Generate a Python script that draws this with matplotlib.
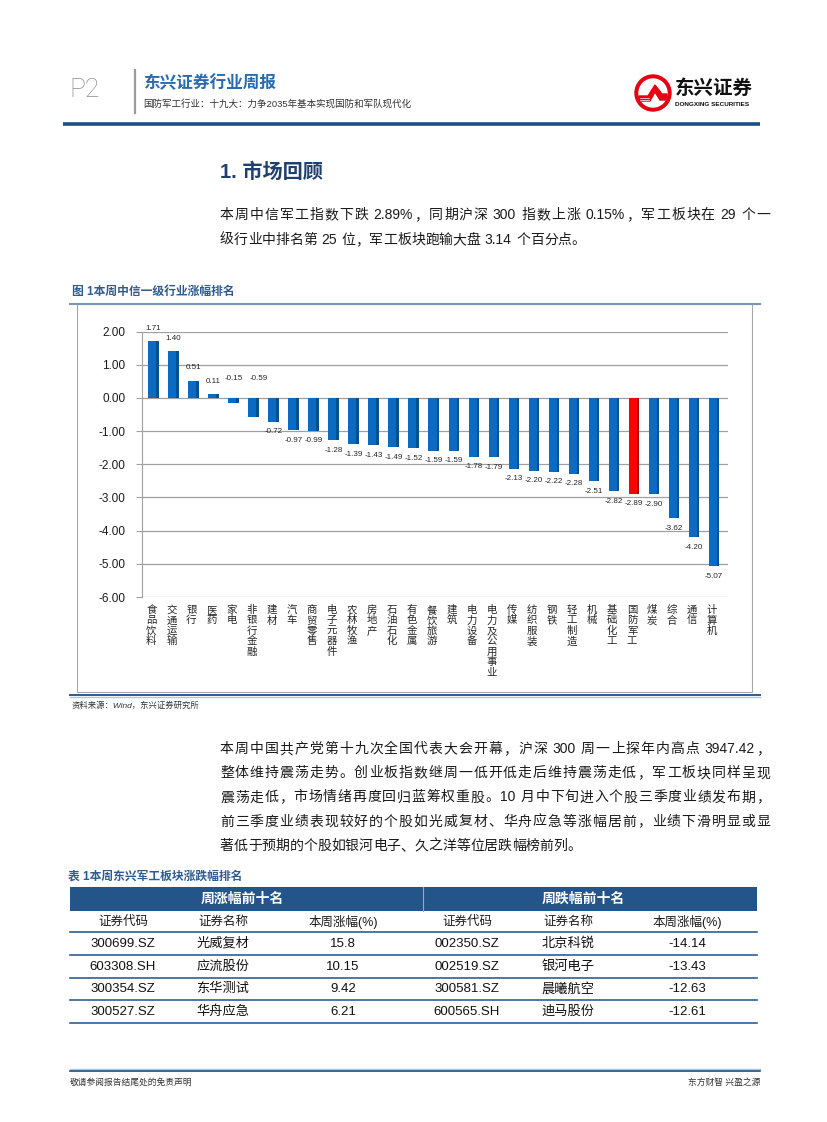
import matplotlib
matplotlib.use('Agg')
import numpy as np
import matplotlib.pyplot as plt
from matplotlib.patches import Rectangle, Circle, Polygon

plt.rcParams['font.family'] = ['Liberation Sans', 'Noto Sans CJK SC', 'DejaVu Sans']

# 图1 数据：中信一级行业本周涨跌幅(%)
industries = ['食品饮料', '交通运输', '银行', '医药', '家电', '非银行金融', '建材', '汽车',
              '商贸零售', '电子元器件', '农林牧渔', '房地产', '石油石化', '有色金属',
              '餐饮旅游', '建筑', '电力设备', '电力及公用事业', '传媒', '纺织服装', '钢铁',
              '轻工制造', '机械', '基础化工', '国防军工', '煤炭', '综合', '通信', '计算机']
changes = [1.71, 1.40, 0.51, 0.11, -0.15, -0.59, -0.72, -0.97, -0.99, -1.28, -1.39, -1.43,
           -1.49, -1.52, -1.59, -1.59, -1.78, -1.79, -2.13, -2.20, -2.22, -2.28, -2.51,
           -2.82, -2.89, -2.90, -3.62, -4.20, -5.07]
highlight = '国防军工'

# 正文
para1 = ['本周中信军工指数下跌 2.89%，同期沪深 300 指数上涨 0.15%，军工板块在 29 个一',
         '级行业中排名第 25 位，军工板块跑输大盘 3.14 个百分点。']
para2 = ['本周中国共产党第十九次全国代表大会开幕，沪深 300 周一上探年内高点 3947.42，',
         '整体维持震荡走势。创业板指数继周一低开低走后维持震荡走低，军工板块同样呈现',
         '震荡走低，市场情绪再度回归蓝筹权重股。10 月中下旬进入个股三季度业绩发布期，',
         '前三季度业绩表现较好的个股如光威复材、华舟应急等涨幅居前，业绩下滑明显或显',
         '著低于预期的个股如银河电子、久之洋等位居跌幅榜前列。']

# 表1 数据
col_heads = ['证券代码', '证券名称', '本周涨幅(%)']
up_codes = ['300699.SZ', '603308.SH', '300354.SZ', '300527.SZ']
up_names = ['光威复材', '应流股份', '东华测试', '华舟应急']
up_pct = [15.8, 10.15, 9.42, 6.21]
down_codes = ['002350.SZ', '002519.SZ', '300581.SZ', '600565.SH']
down_names = ['北京科锐', '银河电子', '晨曦航空', '迪马股份']
down_pct = [-14.14, -13.43, -12.63, -12.61]

W, H = 827, 1122
fig = plt.figure(figsize=(W / 100, H / 100), dpi=100)
page = fig.add_axes([0, 0, 1, 1])
page.set_xlim(0, W)
page.set_ylim(H, 0)
page.axis('off')
renderer = fig.canvas.get_renderer()


def tokens(s):
    out, buf, sp = [], '', False
    for ch in s:
        if ch == ' ':
            if buf:
                out.append((buf, sp))
                buf, sp = '', False
            sp = True
        elif ord(ch) < 128:
            buf += ch
        else:
            if buf:
                out.append((buf, sp))
                buf, sp = '', False
            out.append((ch, sp))
            sp = False
    if buf:
        out.append((buf, sp))
    return out


def text_line(s, x0, y, size, x1=None, color='#1a1a1a'):
    # 逐字排版，x1 给出时两端对齐
    toks = tokens(s)
    em = size * 100 / 72
    arts, ws = [], []
    for t, _ in toks:
        a = page.text(0, y, t, fontsize=size, va='center', ha='left', color=color)
        arts.append(a)
        if ord(t[0]) < 128:
            ws.append(a.get_window_extent(renderer).width + 0.5)
        else:
            ws.append(em)
    spw = em * 0.3
    natural = sum(ws) + spw * sum(1 for _, sp in toks if sp)
    gap = (x1 - x0 - natural) / (len(toks) - 1) if x1 else 0
    x = x0
    for a, w, (t, sp) in zip(arts, ws, toks):
        if sp:
            x += spw
        a.set_x(x)
        x += w + gap


# ---------- 页眉 ----------
page.text(69, 90, 'P2', fontsize=19, color='#8C8C8C', va='center', ha='left',
          family=['Roboto', 'DejaVu Sans'], fontweight='light')
page.plot([135, 135], [70, 113], color='#9A9A9A', lw=1.6)
page.text(143, 83, '东兴证券行业周报', fontsize=12, fontweight='bold', color='#2A6AAE',
          va='center', ha='left')
page.text(143, 104, '国防军工行业：十九大：力争2035年基本实现国防和军队现代化', fontsize=6.8,
          color='#333333', va='center', ha='left')
# logo
page.add_patch(Circle((653, 93), 18, color='#E60012'))
page.add_patch(Circle((653, 93), 14, color='white'))
page.add_patch(Polygon([(639, 96), (648, 96), (655, 85), (662, 94), (667, 94), (667, 100),
                        (660, 100), (655, 92), (650, 101), (639, 101)], closed=True,
                       color='#E60012'))
for yy in (97.5, 99.5):
    page.plot([640, 649], [yy, yy], color='white', lw=0.5)
page.text(675, 89, '东兴证券', fontsize=14, fontweight='bold', color='#111111',
          va='center', ha='left')
page.text(675, 104, 'DONGXING SECURITIES', fontsize=4.6, fontweight='bold', color='#111111',
          va='center', ha='left')
page.plot([63, 760], [124, 124], color='#1B4F80', lw=2.6, solid_capstyle='butt')

# ---------- 标题与正文 ----------
page.text(220, 172, '1. 市场回顾', fontsize=14.5, fontweight='bold', color='#1F3F6E',
          va='center', ha='left')
text_line(para1[0], 220, 215, 10, x1=770)
text_line(para1[1], 220, 240, 10)

# ---------- 图1 ----------
page.text(72, 292, '图 1本周中信一级行业涨幅排名', fontsize=8.5, fontweight='bold',
          color='#2F5C8F', va='center', ha='left')
page.add_patch(Rectangle((77, 304), 752 - 77, 692 - 304, fill=False, ec='#A6A6A6', lw=0.8))
page.plot([70, 760], [304, 304], color='#7A96B4', lw=1.5)
page.plot([70, 760], [695, 695], color='#2D5C8A', lw=1.4)
page.plot([70, 760], [697, 697], color='#A9C8E8', lw=1.0)
page.text(72, 706, '资料来源：Wind，东兴证券研究所', fontsize=6, style='italic',
          color='#333333', va='center', ha='left')

ax = fig.add_axes([142 / W, 1 - 597 / H, (727.7 - 142) / W, (597 - 331.5) / H])
x = np.arange(len(industries))
face = ['#FF0000' if n == highlight else '#0B6BC2' for n in industries]
side = ['#A30000' if n == highlight else '#06508F' for n in industries]
ax.bar(x - 0.06, changes, width=0.40, color=face, zorder=3)
ax.bar(x + 0.20, changes, width=0.12, color=side, zorder=3)
ax.set_xlim(-0.565, 28.68)
ax.set_ylim(-6, 2)
ax.set_yticks(np.arange(-6, 2.01, 1))
ax.set_yticklabels(['%.2f' % v for v in np.arange(-6, 2.01, 1)], fontsize=8.5, color='#1a1a1a')
ax.tick_params(axis='y', length=4, pad=8, color='#A0A0A0')
ax.set_xticks([])
ax.grid(axis='y', color='#A0A0A0', lw=0.9, zorder=0)
for s in ('top', 'right', 'bottom'):
    ax.spines[s].set_visible(False)
ax.spines['left'].set_color('#A0A0A0')
ax.patch.set_alpha(0)

for i, (name, v) in enumerate(zip(industries, changes)):
    if v >= 0:
        ax.annotate('%.2f' % v, xy=(i, v), xytext=(0, 13), textcoords='offset pixels',
                    ha='center', va='center', fontsize=5.8, color='#262626')
    elif v > -0.6:
        ax.annotate('%.2f' % v, xy=(i, 0), xytext=(5 if v < -0.5 else 0, 19),
                    textcoords='offset pixels', ha='center', va='center', fontsize=5.8,
                    color='#262626')
    else:
        ax.annotate('%.2f' % v, xy=(i, v), xytext=(0, -10), textcoords='offset pixels',
                    ha='center', va='center', fontsize=5.8, color='#262626')
    ax.annotate('\n'.join(name), xy=(i, 0), xycoords=('data', 'axes fraction'),
                xytext=(-2, -8), textcoords='offset pixels', ha='center', va='top',
                fontsize=7.5, linespacing=1.05, color='#262626', annotation_clip=False)

# ---------- 正文 2 ----------
for k, line in enumerate(para2):
    y = 749 + k * 24.2
    text_line(line, 220, y, 10, x1=770 if k < len(para2) - 1 else None)

# ---------- 表1 ----------
page.text(68, 877, '表 1本周东兴军工板块涨跌幅排名', fontsize=8.5, fontweight='bold',
          color='#2F5C8F', va='center', ha='left')
page.add_patch(Rectangle((70, 887), 757 - 70, 24, color='#24558A', lw=0))
page.plot([423, 423], [887, 911], color='#8FA9C6', lw=0.8)
page.text(242, 899, '周涨幅前十名', fontsize=10, fontweight='bold', color='white',
          va='center', ha='center')
page.text(583, 899, '周跌幅前十名', fontsize=10, fontweight='bold', color='white',
          va='center', ha='center')
col_x = [123, 223, 343, 467, 568, 687]
for cx, head in zip(col_x, col_heads + col_heads):
    page.text(cx, 922, head, fontsize=9, color='#1a1a1a', va='center', ha='center')
row_y = [943.5, 966.5, 989, 1011.5]
for y in [932, 955, 978, 1000, 1023]:
    page.plot([70, 757], [y, y], color='#2E5F91', lw=1.2)
for r, y in enumerate(row_y):
    cells = [up_codes[r], up_names[r], str(up_pct[r]),
             down_codes[r], down_names[r], str(down_pct[r])]
    for cx, c in zip(col_x, cells):
        page.text(cx, y, c, fontsize=9.5, color='#111111', va='center', ha='center')

# ---------- 页脚 ----------
page.plot([70, 760], [1068.5, 1068.5], color='#A9C8E8', lw=1.0)
page.plot([70, 760], [1070.5, 1070.5], color='#1F4E79', lw=1.2)
page.text(70, 1082, '敬请参阅报告结尾处的免责声明', fontsize=6.3, color='#333333',
          va='center', ha='left')
page.text(760, 1082, '东方财智 兴盈之源', fontsize=6.3, color='#333333',
          va='center', ha='right')

fig.savefig('out.png', dpi=100)
